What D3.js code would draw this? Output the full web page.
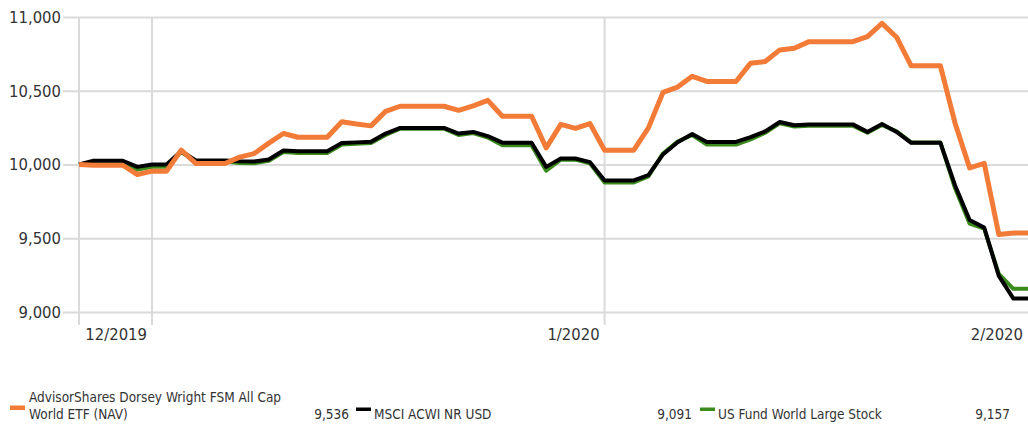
<!DOCTYPE html>
<html lang="en">
<head>
<meta charset="utf-8">
<title>Growth of 10,000</title>
<style>
	body { margin: 0; background: #fff; }
	svg text { font-family: "DejaVu Sans Condensed", Roboto, sans-serif; fill: #333; }
	.grid line { stroke: #dadada; stroke-width: 2px; }
	.series { fill: none; stroke-linejoin: round; }
</style>
<script src="https://cdn.jsdelivr.net/npm/d3@7/dist/d3.min.js"></script>
</head>
<body>
<script>
// daily values, growth of 10,000
var fundValues = [10000, 9995, 9995, 9995, 9932, 9955, 9955, 10097, 10007, 10007, 10007, 10050, 10074, 10145, 10210, 10185, 10185, 10185, 10290, 10275, 10262, 10360, 10395, 10395, 10395, 10395, 10367, 10398, 10435, 10327, 10327, 10327, 10113, 10272, 10245, 10277, 10097, 10097, 10097, 10248, 10489, 10525, 10598, 10563, 10563, 10563, 10687, 10698, 10777, 10788, 10833, 10833, 10833, 10833, 10867, 10957, 10863, 10669, 10669, 10669, 10282, 9977, 10008, 9525, 9536, 9536];
var msciValues = [10000, 10025, 10025, 10025, 9984, 10000, 10000, 10090, 10027, 10027, 10027, 10022, 10020, 10034, 10095, 10090, 10090, 10090, 10145, 10150, 10155, 10210, 10248, 10248, 10248, 10248, 10210, 10221, 10192, 10148, 10148, 10148, 9984, 10041, 10041, 10016, 9892, 9892, 9892, 9928, 10068, 10151, 10207, 10153, 10153, 10153, 10185, 10225, 10288, 10266, 10272, 10272, 10272, 10272, 10221, 10275, 10221, 10147, 10147, 10147, 9860, 9624, 9572, 9245, 9091, 9091];
var categoryValues = [10000, 10012, 10012, 10012, 9965, 9985, 9985, 10085, 10020, 10020, 10020, 10010, 10008, 10025, 10085, 10078, 10078, 10078, 10135, 10140, 10145, 10200, 10243, 10243, 10243, 10243, 10200, 10213, 10183, 10130, 10130, 10130, 9958, 10033, 10033, 10008, 9878, 9878, 9878, 9920, 10075, 10155, 10200, 10135, 10135, 10135, 10170, 10215, 10280, 10258, 10263, 10263, 10263, 10263, 10215, 10268, 10225, 10150, 10150, 10150, 9840, 9600, 9565, 9258, 9157, 9157];

var seriesNames = ["AdvisorShares Dorsey Wright FSM All Cap World ETF (NAV)", "MSCI ACWI NR USD", "US Fund World Large Stock"];
var seriesColors = ["#f37b38", "#000000", "#3a8a1c"];
var endValues = ["9,536", "9,091", "9,157"];

var yTicks = [9000, 9500, 10000, 10500, 11000];
var xTickIndex = [5, 36, 65];
var xTickLabels = ["12/2019", "1/2020", "2/2020"];

var width = 1028, height = 424;
var plotLeft = 79, plotRight = 1028, plotTop = 17, plotBottom = 312;

var svg = d3.select("body").append("svg")
	.attr("width", width)
	.attr("height", height);

var x = d3.scaleLinear()
	.domain([0, fundValues.length - 1])
	.range([plotLeft, plotRight]);

var y = d3.scaleLinear()
	.domain([9000, 11000])
	.range([plotBottom, plotTop]);

// horizontal grid + y labels
var yAxis = d3.axisLeft(y)
	.tickValues(yTicks)
	.tickFormat(d3.format(","))
	.tickSize(-(plotRight - 63))
	.tickPadding(2);

svg.append("g")
	.attr("class", "grid y")
	.attr("transform", "translate(63,0)")
	.call(yAxis)
	.call(function(g){ g.select(".domain").remove(); })
	.call(function(g){
		g.selectAll("text")
			.attr("x", -2)
			.attr("fill", "#333")
			.style("font-size", "16.5px");
	});

// vertical grid (the last month line sits past the right edge)
var xGrid = [0].concat(xTickIndex.filter(function(d){ return d < fundValues.length - 1; }));
svg.append("g")
	.attr("class", "grid x")
	.selectAll("line")
	.data(xGrid)
	.enter()
	.append("line")
	.attr("x1", function(d){ return x(d); })
	.attr("x2", function(d){ return x(d); })
	.attr("y1", plotTop)
	.attr("y2", 325);

svg.append("g")
	.selectAll("text")
	.data(xTickIndex)
	.enter()
	.append("text")
	.attr("x", function(d){ return x(d) - 5; })
	.attr("y", 340)
	.attr("text-anchor", "end")
	.style("font-size", "16.5px")
	.text(function(d, i){ return xTickLabels[i]; });

// lines
var line = d3.line()
	.x(function(d, i){ return x(i); })
	.y(function(d){ return y(d); });

var allSeries = [categoryValues, msciValues, fundValues];
var allColors = [seriesColors[2], seriesColors[1], seriesColors[0]];
var allWidths = [4, 4, 5];

svg.selectAll("path.series")
	.data(allSeries)
	.enter()
	.append("path")
	.attr("class", "series")
	.attr("d", line)
	.attr("stroke", function(d, i){ return allColors[i]; })
	.attr("stroke-width", function(d, i){ return allWidths[i]; });

// legend
var legend = svg.append("g").style("font-size", "13.5px");
var legendX = [10, 356, 700];
var valueX = [349, 692, 1010];

legend.selectAll("rect")
	.data(seriesColors)
	.enter()
	.append("rect")
	.attr("x", function(d, i){ return legendX[i]; })
	.attr("y", function(d, i){ return i == 0 ? 405.5 : 407.5; })
	.attr("width", 15)
	.attr("height", function(d, i){ return i == 0 ? 4.5 : 3.5; })
	.attr("fill", function(d){ return d; });

legend.append("text")
	.attr("x", 29)
	.attr("y", 402)
	.text("AdvisorShares Dorsey Wright FSM All Cap");
legend.append("text")
	.attr("x", 29)
	.attr("y", 418.5)
	.text("World ETF (NAV)");

legend.selectAll("text.name")
	.data(seriesNames.slice(1))
	.enter()
	.append("text")
	.attr("class", "name")
	.attr("x", function(d, i){ return legendX[i + 1] + 18; })
	.attr("y", 418.5)
	.text(function(d){ return d; });

legend.selectAll("text.val")
	.data(endValues)
	.enter()
	.append("text")
	.attr("class", "val")
	.attr("x", function(d, i){ return valueX[i]; })
	.attr("y", 418.5)
	.attr("text-anchor", "end")
	.text(function(d){ return d; });
</script>
</body>
</html>
